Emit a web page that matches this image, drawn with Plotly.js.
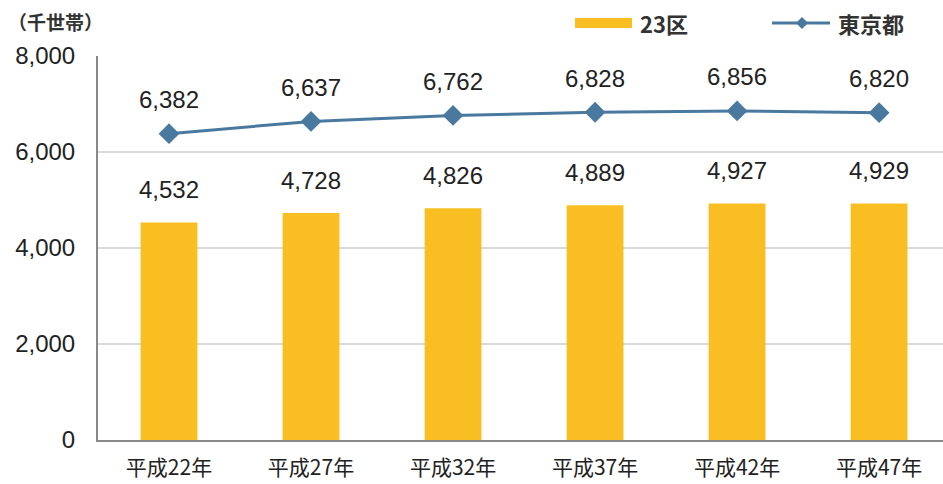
<!DOCTYPE html>
<html><head><meta charset="utf-8">
<script src="https://cdn.plot.ly/plotly-3.0.1.min.js"></script>
<style>html,body{margin:0;padding:0;background:#fff}#chart{width:943px;height:484px}</style>
</head><body><div id="chart"></div>
<script>
const categories = ['平成22年','平成27年','平成32年','平成37年','平成42年','平成47年'];
const ward23 = [4532, 4728, 4826, 4889, 4927, 4929];
const tokyo = [6382, 6637, 6762, 6828, 6856, 6820];
const seriesNames = ['23区', '東京都'];
const yTicks = [0, 2000, 4000, 6000, 8000];
const yTickText = ['0', '2,000', '4,000', '6,000', '8,000'];

const fontFam = '"Liberation Sans", Arial, "Noto Sans CJK JP", sans-serif';
const cjk = '"Noto Sans CJK JP", sans-serif';
const barColor = '#F9BF22', lineColor = '#4A79A0';
const fmt = v => v.toLocaleString('en-US');

const L = 98, W = 845, T = 56, H = 384;
const px = x => (x - L) / W;
const py = y => (T + H - y) / H;

const traces = [
  {type:'bar', name:seriesNames[0], x:categories, y:ward23, marker:{color:barColor}, width:0.4, hoverinfo:'none', showlegend:false},
  {type:'scatter', mode:'lines+markers', name:seriesNames[1], x:categories, y:tokyo,
   line:{color:lineColor, width:3}, marker:{symbol:'diamond', size:16, color:lineColor}, hoverinfo:'none', showlegend:false}
];

const annotations = [];
categories.forEach((c,i)=>{
  annotations.push({x:c, y:ward23[i], text:fmt(ward23[i]), showarrow:false, yshift:33, font:{size:24, color:'#222', family:fontFam}});
  annotations.push({x:c, y:tokyo[i], text:fmt(tokyo[i]), showarrow:false, yshift:34, font:{size:24, color:'#222', family:fontFam}});
});
annotations.push({xref:'paper', yref:'paper', x:px(6), y:py(22), xanchor:'left', yanchor:'middle', text:'（千世帯）', showarrow:false,
  font:{size:19, color:'#333', family:cjk, weight:'bold'}});
// legend labels
annotations.push({xref:'paper', yref:'paper', x:px(638), y:py(23), xanchor:'left', yanchor:'middle', text:seriesNames[0], showarrow:false,
  font:{size:22, color:'#333', family:cjk, weight:'bold'}});
annotations.push({xref:'paper', yref:'paper', x:px(836), y:py(23), xanchor:'left', yanchor:'middle', text:seriesNames[1], showarrow:false,
  font:{size:22, color:'#333', family:cjk, weight:'bold'}});

const shapes = [
  {type:'rect', xref:'paper', yref:'paper', x0:px(575), x1:px(632), y0:py(28), y1:py(18), fillcolor:barColor, line:{width:0}},
  {type:'line', xref:'paper', yref:'paper', x0:px(772), x1:px(830), y0:py(23), y1:py(23), line:{color:lineColor, width:3}},
  {type:'path', xref:'paper', yref:'paper',
   path:`M ${px(802)} ${py(17)} L ${px(808)} ${py(23)} L ${px(802)} ${py(29)} L ${px(796)} ${py(23)} Z`,
   fillcolor:lineColor, line:{width:0}}
];

const layout = {
  width:943, height:484,
  margin:{l:L, r:0, t:T, b:44},
  paper_bgcolor:'#fff', plot_bgcolor:'#fff',
  showlegend:false,
  xaxis:{type:'category', range:[-0.5, 5.45], showgrid:false, zeroline:false, showline:true, linecolor:'#888', linewidth:2,
    ticks:'', tickfont:{size:21, color:'#222', family:cjk}, ticklabelstandoff:8},
  yaxis:{range:[0, 8000], tickvals:yTicks, ticktext:yTickText, showgrid:true, gridcolor:'#d9d9d9', gridwidth:2,
    zeroline:false, showline:true, linecolor:'#888', linewidth:2, ticks:'',
    tickfont:{size:24, color:'#222', family:fontFam}, ticklabelstandoff:16},
  annotations:annotations,
  shapes:shapes
};
Plotly.newPlot('chart', traces, layout, {displayModeBar:false, staticPlot:true});
</script></body></html>
